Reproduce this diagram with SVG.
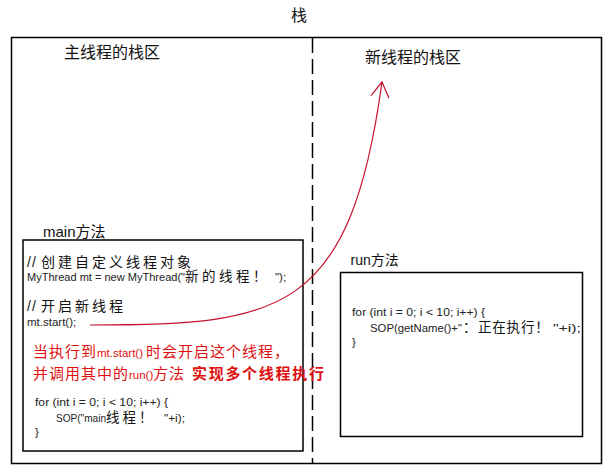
<svg xmlns="http://www.w3.org/2000/svg" width="614" height="472" viewBox="0 0 614 472">
<style>
  .box{fill:none;stroke:#000;stroke-width:1.5}
  .title{font-family:"Noto Sans CJK SC","Noto Sans CJK TC",sans-serif;font-size:16px;fill:#111}
  .lbl{font-family:"Liberation Sans","Noto Sans CJK SC",sans-serif;fill:#111}
  .cjk{font-family:"Noto Sans CJK SC",sans-serif;fill:#111}
  .code{font-family:"Liberation Sans",sans-serif;font-size:11.5px;fill:#222}
  .red{fill:#e01010}
</style>
<defs>
  <marker id="openArrow" markerUnits="userSpaceOnUse" markerWidth="24" markerHeight="24" viewBox="-20 -12 24 24" refX="0" refY="0" orient="auto" overflow="visible">
    <path d="M-15,-9 L0,0 L-15,9" fill="none" stroke="#c8102e" stroke-width="1.2"/>
  </marker>
</defs>

<g id="stack">
  <text class="title" x="299" y="21" text-anchor="middle" font-size="15">栈</text>
  <rect class="box" x="11.5" y="37.5" width="590" height="426"/>
  <line x1="312.5" y1="38" x2="312.5" y2="463" stroke="#000" stroke-width="1.5" stroke-dasharray="15 6"/>
</g>

<g id="main-stack">
  <text class="title" x="64" y="58">主线程的栈区</text>
</g>

<g id="new-stack">
  <text class="title" x="365" y="63">新线程的栈区</text>
</g>

<g id="main-method">
  <text class="lbl" x="43" y="237" font-size="15">main方法</text>
  <rect class="box" x="23" y="240" width="280" height="211"/>
  <text class="lbl" x="27" y="267" font-size="14" letter-spacing="1">//</text>
  <text class="cjk" x="41" y="267" font-size="14" letter-spacing="3">创建自定义线程对象</text>
  <text class="code" x="27" y="281" textLength="158" lengthAdjust="spacingAndGlyphs">MyThread mt = new MyThread("</text>
  <text class="cjk" x="185" y="281" font-size="13.5" letter-spacing="3.5">新的线程！</text>
  <text class="code" x="275" y="281">");</text>
  <text class="lbl" x="27" y="311" font-size="14" letter-spacing="1">//</text>
  <text class="cjk" x="41" y="311" font-size="14" letter-spacing="3">开启新线程</text>
  <text class="code" x="27" y="326">mt.start();</text>

  <text class="cjk red" x="33" y="357" font-size="15" letter-spacing="1">当执行到</text>
  <text class="code red" x="97" y="357">mt.start()</text>
  <text class="cjk red" x="146" y="357" font-size="15" letter-spacing="1">时会开启这个线程，</text>
  <text class="cjk red" x="33" y="379" font-size="15" letter-spacing="1">并调用其中的</text>
  <text class="code red" x="129" y="379">run()</text>
  <text class="cjk red" x="153" y="379" font-size="15" letter-spacing="1">方法</text>
  <text class="cjk red" x="192" y="379" font-size="15" font-weight="bold" letter-spacing="1.7">实现多个线程执行</text>

  <text class="code" x="35" y="406" textLength="133" lengthAdjust="spacingAndGlyphs">for (int i = 0; i &lt; 10; i++) {</text>
  <text class="code" x="56" y="422" textLength="50" lengthAdjust="spacingAndGlyphs">SOP("main</text>
  <text class="cjk" x="106" y="422" font-size="13.5" letter-spacing="3">线程！</text>
  <text class="code" x="164" y="422" textLength="21" lengthAdjust="spacingAndGlyphs">"+i);</text>
  <text class="code" x="35" y="436">}</text>
</g>

<g id="run-method">
  <text class="lbl" x="350.5" y="265" font-size="14">run方法</text>
  <rect class="box" x="340.5" y="272.5" width="242" height="164"/>
  <text class="code" x="352" y="316" textLength="133" lengthAdjust="spacingAndGlyphs">for (int i = 0; i &lt; 10; i++) {</text>
  <text class="code" x="370" y="332" textLength="92" lengthAdjust="spacingAndGlyphs">SOP(getName()+"</text>
  <text class="cjk" x="463" y="332" font-size="13.5">：</text>
  <text class="cjk" x="478" y="332" font-size="13.5" letter-spacing="0.8">正在执行！</text>
  <text class="code" x="553" y="332" textLength="28" lengthAdjust="spacingAndGlyphs">"+i);</text>
  <text class="code" x="352" y="346">}</text>
</g>

<g id="connectors">
  <path d="M90,325 C280,325 350,315 382,82" fill="none" stroke="#c8102e" stroke-width="1.2" marker-end="url(#openArrow)"/>
</g>
</svg>
